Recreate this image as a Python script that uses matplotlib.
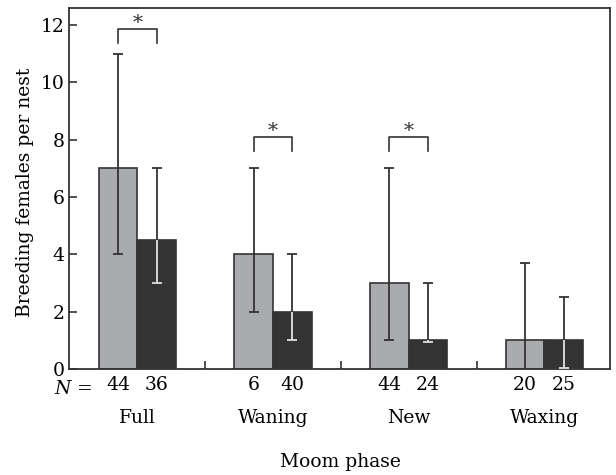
import matplotlib
matplotlib.use("Agg")
import matplotlib.pyplot as plt
import matplotlib.transforms as mtransforms
import numpy as np

plt.rcParams['font.family'] = ['DejaVu Serif']
plt.rcParams['mathtext.fontset'] = 'dejavuserif'

phases = ["Full", "Waning", "New", "Waxing"]
n_gray = [44, 6, 44, 20]
n_dark = [36, 40, 24, 25]
mean_gray = [7, 4, 3, 1]
mean_dark = [4.5, 2, 1, 1]
upper_gray = [11, 7, 7, 3.7]
lower_gray = [4, 2, 1, 0]
upper_dark = [7, 4, 3, 2.5]
lower_dark = [3, 1, 0.95, 0.05]
sig_groups = [0, 1, 2]
sig_heights = [11.87, 8.1, 8.1]
yticks = [0, 2, 4, 6, 8, 10, 12]

GRAY = "#aaabae"
DARK = "#333333"
EDGE = "#333333"
LIGHT = "#e0e0e0"
FS = 13.5

fig = plt.figure(figsize=(6.16, 4.75), dpi=100)
ax = fig.add_axes([69/616, (475-369)/475, (610-69)/616, (369-8)/475])

x = np.arange(len(phases))
w = 0.285
off = 0.1425
xg = x - off
xd = x + off

ax.bar(xg, mean_gray, width=w, color=GRAY, edgecolor=EDGE, linewidth=1.2, zorder=2)
ax.bar(xd, mean_dark, width=w, color=DARK, edgecolor=EDGE, linewidth=1.2, zorder=2)

cap = 0.037
lw = 1.3
ax.vlines(xg, lower_gray, upper_gray, color=EDGE, lw=lw, zorder=3)
ax.hlines(upper_gray, xg - cap, xg + cap, color=EDGE, lw=lw, zorder=3)
ax.hlines(lower_gray, xg - cap, xg + cap, color=EDGE, lw=lw, zorder=3)
ax.vlines(xd, mean_dark, upper_dark, color=EDGE, lw=lw, zorder=3)
ax.hlines(upper_dark, xd - cap, xd + cap, color=EDGE, lw=lw, zorder=3)
ax.vlines(xd, lower_dark, mean_dark, color=LIGHT, lw=lw, zorder=3)
ax.hlines(lower_dark, xd - cap, xd + cap, color=LIGHT, lw=lw, zorder=3)

for g, h in zip(sig_groups, sig_heights):
    ax.plot([xg[g], xg[g], xd[g], xd[g]], [h - 0.49, h, h, h - 0.49],
            color=EDGE, lw=1.2, zorder=3)
    ax.text(x[g], h + 0.18, "*", ha="center", va="center", fontsize=FS + 1, color=EDGE)

ax.set_xlim(-0.503, 3.483)
ax.set_ylim(0, 12.59)
ax.set_yticks(yticks)
ax.set_yticklabels([str(v) for v in yticks], fontsize=FS)

bar_pos = np.ravel(np.column_stack([xg, xd]))
bar_lab = [str(v) for pair in zip(n_gray, n_dark) for v in pair]
ax.set_xticks(bar_pos)
ax.set_xticklabels(bar_lab, fontsize=FS)
ax.set_xticks(x[:-1] + 0.5, minor=True)
ax.tick_params(axis='x', which='major', length=0, pad=5)
ax.tick_params(axis='x', which='minor', direction='in', length=6, width=1.2, color=EDGE)
ax.tick_params(axis='y', direction='in', length=6, width=1.2, color=EDGE, pad=3)

for s in ax.spines.values():
    s.set_color(EDGE)
    s.set_linewidth(1.3)

trans = mtransforms.blended_transform_factory(ax.transData, ax.transAxes)
for i, p in enumerate(phases):
    ax.text(x[i], -0.136, p, transform=trans, ha="center", va="center", fontsize=FS)

fig.text(73/616, 1 - 389/475, r"$\mathit{N}$ =", ha="center", va="center", fontsize=FS)
fig.text(340/616, 1 - 462/475, "Moom phase", ha="center", va="center", fontsize=FS)
fig.text(25/616, 1 - 192/475, "Breeding females per nest", ha="center", va="center",
         rotation=90, fontsize=FS)

fig.savefig("out.png", dpi=100)
